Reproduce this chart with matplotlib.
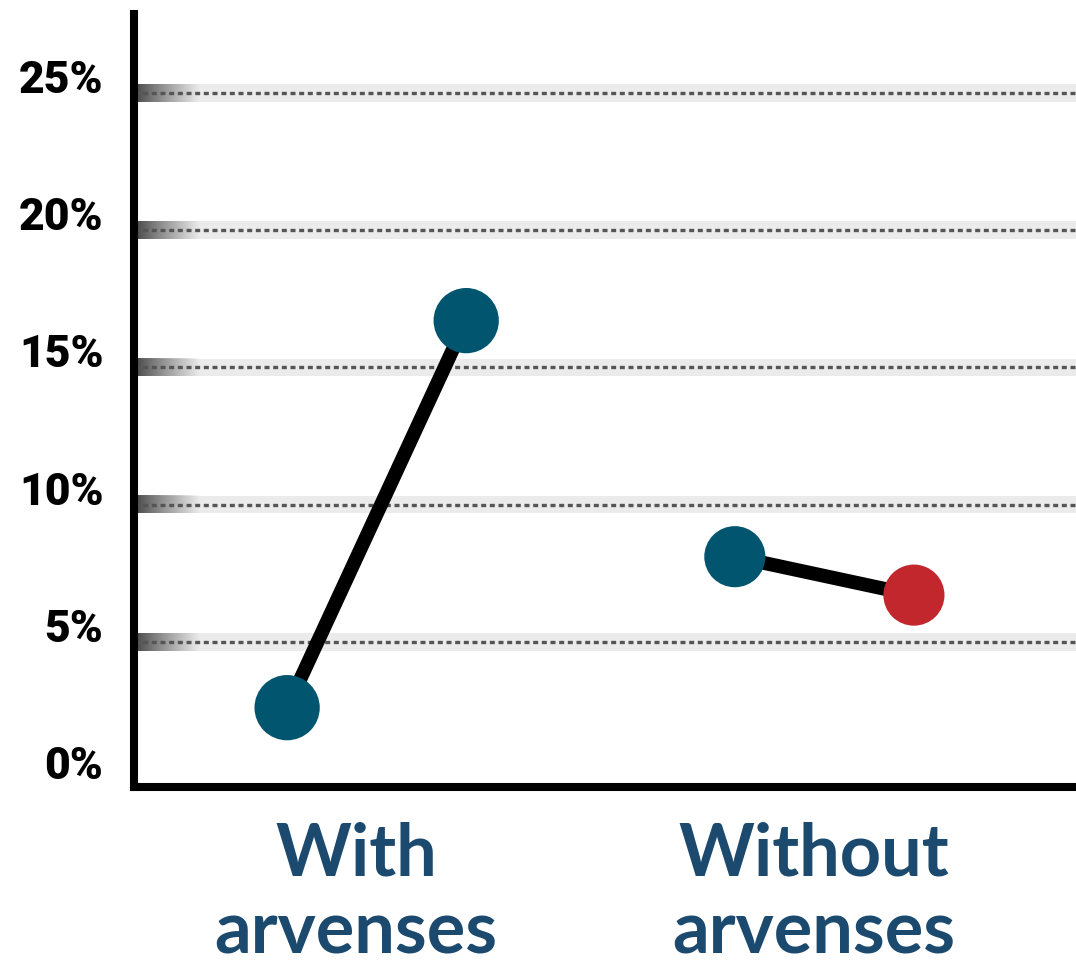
import numpy as np
import matplotlib
matplotlib.use("Agg")
import matplotlib.pyplot as plt
from matplotlib.transforms import blended_transform_factory

# Data
group_labels = ["With\narvenses", "Without\narvenses"]
group_label_x = [1.385, 3.94]
with_x = [1.0, 2.0]
with_vals = [2.6, 16.7]
with_colors = ["#02556f", "#02556f"]
without_x = [3.5, 4.5]
without_vals = [8.1, 6.7]
without_colors = ["#02556f", "#c1272d"]
yticks = [0, 5, 10, 15, 20, 25]
ytick_labels = ["0%", "5%", "10%", "15%", "20%", "25%"]

W, H = 1076, 969
fig = plt.figure(figsize=(W / 100, H / 100), dpi=100)
fig.patch.set_facecolor("white")
ax = fig.add_axes([134 / W, 1 - 787 / H, (W - 134) / W, (787 - 14) / H])
ax.set_xlim(0.145, 5.405)
ax.set_ylim(-0.29, 27.87)

# Grid: light band, left dark fade, dotted line
grad = np.zeros((1, 256, 4))
grad[..., :3] = 0.22
grad[..., 3] = np.clip(1 - np.linspace(0, 1, 256) ** 0.9, 0, 1) * 0.95
x_fade = 0.145 + 65 / 179
for v in yticks[1:]:
    ax.axhspan(v - 0.32, v + 0.32, color="#ebebeb", lw=0, zorder=0)
    ax.imshow(grad, extent=(0.145, x_fade, v - 0.32, v + 0.32), aspect="auto",
              zorder=0.5, interpolation="bilinear")
    ax.axhline(v, color="#555555", lw=2.4, ls=(0, (1.5, 1.1)), zorder=1)

# Paired points with connecting lines
ax.plot(with_x, with_vals, color="black", lw=10, zorder=2, solid_capstyle="butt")
ax.plot(without_x, without_vals, color="black", lw=10, zorder=2, solid_capstyle="butt")
ax.scatter(with_x, with_vals, s=47 ** 2, c=with_colors, zorder=3, linewidths=0)
ax.scatter(without_x, without_vals, s=44 ** 2, c=without_colors, zorder=3, linewidths=0)

# Axes styling
for side in ["top", "right"]:
    ax.spines[side].set_visible(False)
for side in ["left", "bottom"]:
    ax.spines[side].set_linewidth(5.8)
    ax.spines[side].set_color("black")
ax.set_xticks([])
ax.set_yticks(yticks)
ax.set_yticklabels(ytick_labels, fontfamily="Roboto", fontweight="black",
                   fontsize=32, color="black")
ax.tick_params(axis="y", length=0, pad=22)
for lab in ax.get_yticklabels():
    lab.set_verticalalignment("baseline")

# Group labels under the axis
tr = blended_transform_factory(ax.transData, fig.transFigure)
for x, lab in zip(group_label_x, group_labels):
    ax.text(x, 1 - 822 / H, lab, transform=tr, ha="center", va="top",
            fontfamily="Lato", fontweight="bold", fontsize=52,
            color="#1b4a6e", linespacing=1.2, clip_on=False)

ax.set_facecolor("white")
fig.savefig("out.png", dpi=100, facecolor="white")
